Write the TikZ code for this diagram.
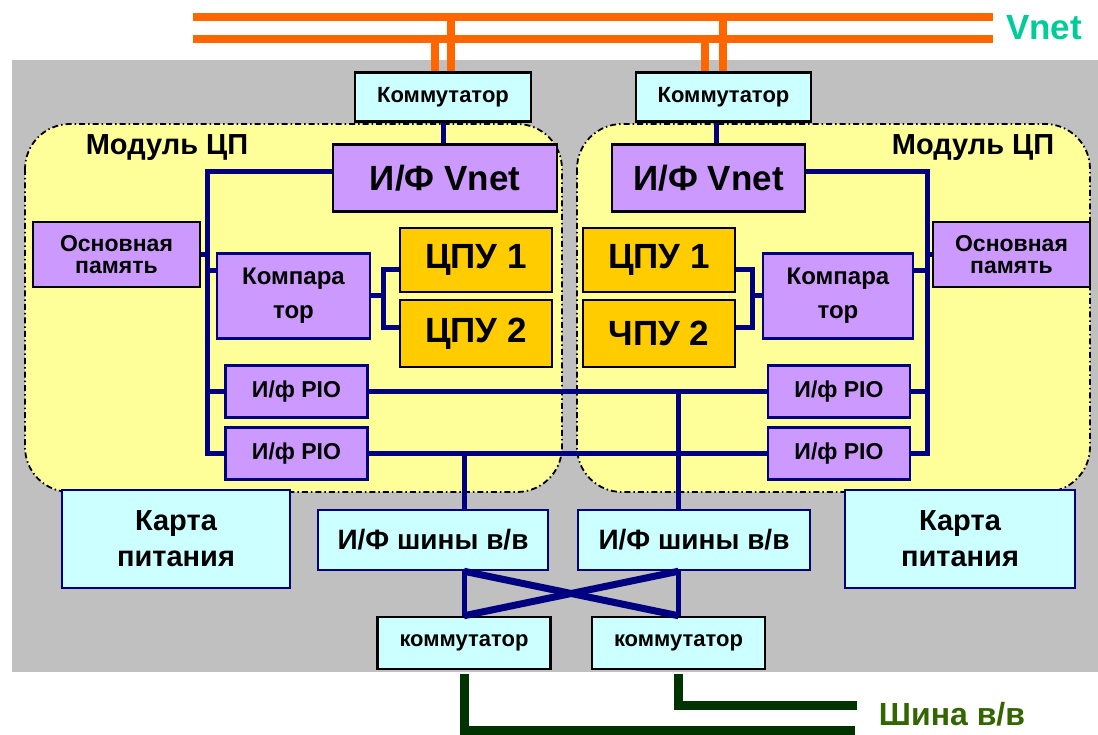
\documentclass[tikz,border=0pt]{standalone}
\usepackage{fontspec}
\setmainfont{Liberation Sans}
\usetikzlibrary{positioning,calc}

\definecolor{vnetorange}{HTML}{FF6600}
\definecolor{vnetgreen}{HTML}{00CC99}
\definecolor{busnavy}{HTML}{000080}
\definecolor{iogreen}{HTML}{003300}
\definecolor{iotext}{HTML}{336600}
\definecolor{cyanbox}{HTML}{CCFFFF}
\definecolor{lilac}{HTML}{CC99FF}
\definecolor{cpuyellow}{HTML}{FFCC00}
\definecolor{modyellow}{HTML}{FFFF99}
\definecolor{panelgray}{HTML}{C0C0C0}

\newcommand{\fsz}[2]{\fontsize{#1}{#2}\selectfont\bfseries}

\tikzset{
  unit/.style={draw, line width=2.5pt, inner sep=0pt, align=center},
  cyanunit/.style={unit, fill=cyanbox},
  lilacunit/.style={unit, fill=lilac},
  cpuunit/.style={unit, fill=cpuyellow},
  bus/.style={busnavy, line width=5pt},
  vnetbus/.style={vnetorange, line width=8pt},
  iobus/.style={iogreen, line width=9pt},
  cpumodule/.style={fill=modyellow, line width=1.8pt, dash pattern=on 6pt off 3pt on 1.5pt off 3pt, rounded corners=45pt}
}

\begin{document}
\begin{tikzpicture}[x=1pt,y=-1pt]
  \useasboundingbox (0,0) rectangle (1098,735);
  \fill[panelgray] (12,60) rectangle (1098,672);

  \coordinate (vnetA) at (193,17);
  \coordinate (vnetB) at (193,39);
  \draw[vnetbus] (vnetA) -- ++(800,0);
  \draw[vnetbus] (vnetB) -- ++(800,0);
  \node[text=vnetgreen, font=\fsz{35}{38}] (vnetlbl) at (1044,28) {Vnet};

  \foreach \xa/\xb in {25/562, 577/1090}
    \draw[cpumodule] (\xa,124) rectangle (\xb,492);
  \node[font=\fsz{29}{32}] (mod1lbl) at (167,148) {Модуль ЦП};
  \node[font=\fsz{29}{32}] (mod2lbl) at (973,148) {Модуль ЦП};

  \node[cyanunit, minimum width=176pt, minimum height=49pt, font=\fsz{22}{24}] (comm1) at (443,97) {Коммутатор};
  \node[cyanunit, minimum width=175pt, minimum height=49pt, font=\fsz{22}{24}] (comm2) at (723.5,97) {Коммутатор};
  \foreach \c/\da/\db in {comm1/-8/8, comm2/-19/-1}{
    \draw[vnetbus] ([xshift=\da pt]\c.north) -- ([xshift=\da pt]\c.north |- vnetB);
    \draw[vnetbus] ([xshift=\db pt]\c.north) -- ([xshift=\db pt]\c.north |- vnetA);
  }

  \node[lilacunit, minimum width=224pt, minimum height=67pt, font=\fsz{35}{38}] (ifv1) at (445,178) {И/Ф Vnet};
  \node[lilacunit, minimum width=193pt, minimum height=67pt, font=\fsz{35}{38}] (ifv2) at (708.5,178) {И/Ф Vnet};

  \node[lilacunit, minimum width=167pt, minimum height=65pt, font=\fsz{23}{22}] (mem1) at (116.5,254.5) {Основная\\память};
  \node[lilacunit, minimum width=157pt, minimum height=65pt, font=\fsz{23}{22}] (mem2) at (1011.5,254.5) {Основная\\память};

  \node[lilacunit, draw=busnavy, minimum width=153pt, minimum height=85pt, font=\fsz{24}{34}] (cmp1) at (293.5,296) {Компара\\тор};
  \node[lilacunit, draw=busnavy, minimum width=150pt, minimum height=85pt, font=\fsz{24}{34}] (cmp2) at (838,296) {Компара\\тор};

  \foreach \n/\x/\ta/\tb in {1/476/ЦПУ 1/ЦПУ 2, 2/659/ЦПУ 1/ЧПУ 2}{
    \node[cpuunit, minimum width=152pt, minimum height=64pt, font=\fsz{35}{38}] (cpu\n a) at (\x,260) {\ta};
    \node[cpuunit, minimum width=152pt, minimum height=67pt, font=\fsz{35}{38}] (cpu\n b) at (\x,333.5) {\tb};
  }

  \foreach \n/\x in {1/296.5, 2/839}{
    \node[lilacunit, draw=busnavy, minimum width=142pt, minimum height=52pt, font=\fsz{23}{26}] (pio\n a) at (\x,391.5) {И/ф PIO};
    \node[lilacunit, draw=busnavy, minimum width=142pt, minimum height=52pt, font=\fsz{23}{26}] (pio\n b) at (\x,453.5) {И/ф PIO};
  }

  \node[cyanunit, draw=busnavy, minimum width=228pt, minimum height=98pt, font=\fsz{29}{36}] (pwr1) at (176,539) {Карта\\питания};
  \node[cyanunit, draw=busnavy, minimum width=230pt, minimum height=98pt, font=\fsz{29}{36}] (pwr2) at (960,539) {Карта\\питания};

  \node[cyanunit, draw=busnavy, minimum width=230pt, minimum height=60pt, font=\fsz{28}{30}] (iof1) at (433,540) {И/Ф шины в/в};
  \node[cyanunit, draw=busnavy, minimum width=232pt, minimum height=60pt, font=\fsz{28}{30}] (iof2) at (694,540) {И/Ф шины в/в};

  \node[cyanunit, minimum width=173pt, minimum height=52pt, font=\fsz{22}{24}] (iosw1) at (464,643) {коммутатор};
  \node[cyanunit, minimum width=173pt, minimum height=52pt, font=\fsz{22}{24}] (iosw2) at (678.5,643) {коммутатор};

  \coordinate (bus1top) at (207,172);
  \coordinate (bus2top) at (927,172);
  \coordinate (join1) at (383,296);
  \coordinate (join2) at (752,296);
  \coordinate (tap2) at (716,0);

  \draw[bus] (comm1.south) -- (comm1.south |- ifv1.north);
  \draw[bus] (comm2.south -| tap2) -- (ifv2.north -| tap2);
  \draw[bus] ([yshift=6pt]ifv1.west) -- (bus1top) -- (bus1top |- pio1b.west) -- (pio1b.west);
  \draw[bus] ([yshift=6pt]ifv2.east) -- (bus2top) -- (bus2top |- pio2b.east) -- (pio2b.east);
  \draw[bus] (mem1.east) -- (mem1.east -| bus1top);
  \draw[bus] (mem2.west) -- (mem2.west -| bus2top);
  \draw[bus] ([yshift=25pt]cmp1.west) -- ([yshift=25pt]cmp1.west -| bus1top);
  \draw[bus] ([yshift=25pt]cmp2.east) -- ([yshift=25pt]cmp2.east -| bus2top);
  \draw[bus] (pio1a.west) -- (pio1a.west -| bus1top);
  \draw[bus] (pio2a.east) -- (pio2a.east -| bus2top);

  \draw[bus] (cmp1.east) -- (join1);
  \draw[bus] ([yshift=-10pt]cpu1a.west) -| (join1) |- ([yshift=6pt]cpu1b.west);
  \draw[bus] (cmp2.west) -- (join2);
  \draw[bus] ([yshift=-10pt]cpu2a.east) -| (join2) |- ([yshift=6pt]cpu2b.east);

  \draw[bus] (pio1a.east) -- (pio2a.west);
  \draw[bus] (pio1b.east) -- (pio2b.west);
  \draw[bus] (iosw1.north |- pio1b.east) -- (iosw1.north |- iof1.north);
  \draw[bus] (iosw2.north |- pio1a.east) -- (iosw2.north |- iof2.north);

  \draw[bus] (iosw1.north |- iof1.south) -- (iosw1.north);
  \draw[bus] (iosw2.north |- iof2.south) -- (iosw2.north);
  \draw[bus, line width=7pt] (iosw1.north |- iof1.south) -- (iosw2.north);
  \draw[bus, line width=7pt] (iosw2.north |- iof2.south) -- (iosw1.north);

  \coordinate (iobusA) at (855,730);
  \coordinate (iobusB) at (857,705);
  \draw[iobus, shorten <=4pt] (iosw1.south) |- (iobusA);
  \draw[iobus, shorten <=4pt] (iosw2.south) |- (iobusB);
  \node[text=iotext, font=\fsz{32}{34}] (iolbl) at (952,714) {Шина в/в};
\end{tikzpicture}
\end{document}
